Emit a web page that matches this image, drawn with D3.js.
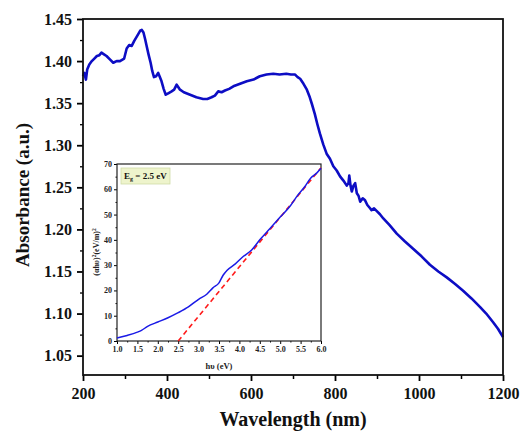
<!DOCTYPE html>
<html>
<head>
<meta charset="utf-8">
<script src="https://cdn.jsdelivr.net/npm/d3@7"></script>
<style>
  html, body { margin: 0; padding: 0; background: #fff; }
  svg { display: block; font-family: "Liberation Serif", "Times New Roman", serif; }
</style>
</head>
<body>
<div id="chart"></div>
<script>
// ---- data: main absorbance spectrum ----
const wavelength = [200, 203, 207, 210, 215, 221, 227, 233, 239, 244, 250, 256, 264, 272, 280, 288, 298, 304, 310, 316,
  322, 328, 336, 340, 344, 348, 351, 356, 361, 365, 369, 374, 379, 383, 387, 392, 397, 404, 411, 417,
  423, 427, 431, 440, 455, 470, 486, 496, 506, 514, 522, 530, 538, 548, 558, 574, 590, 606, 621, 637,
  653, 668, 684, 695, 705, 711, 717, 725, 733, 740, 745, 752, 758, 764, 772, 780, 788, 796, 804, 812,
  820, 828, 832, 834, 837, 840, 844, 848, 852, 856, 860, 866, 871, 877, 882, 887, 893, 899, 907, 915,
  930, 947, 966, 986, 1006, 1026, 1046, 1066, 1086, 1105, 1125, 1145, 1160, 1176, 1188, 1200];
const absorbance = [1.382, 1.386, 1.378, 1.390, 1.396, 1.400, 1.403, 1.406, 1.407, 1.410, 1.408, 1.406, 1.402, 1.398, 1.400, 1.400, 1.403, 1.415, 1.419, 1.418,
  1.424, 1.429, 1.436, 1.437, 1.434, 1.426, 1.419, 1.408, 1.398, 1.388, 1.381, 1.382, 1.386, 1.381, 1.376, 1.367, 1.360, 1.362, 1.364, 1.366,
  1.372, 1.369, 1.366, 1.363, 1.360, 1.357, 1.355, 1.355, 1.357, 1.359, 1.364, 1.363, 1.365, 1.367, 1.370, 1.373, 1.376, 1.378, 1.382, 1.384,
  1.385, 1.384, 1.385, 1.384, 1.384, 1.381, 1.379, 1.373, 1.366, 1.357, 1.349, 1.337, 1.325, 1.314, 1.301, 1.290, 1.284, 1.275, 1.270, 1.263,
  1.258, 1.252, 1.255, 1.264, 1.252, 1.245, 1.252, 1.255, 1.243, 1.240, 1.233, 1.237, 1.235, 1.229, 1.226, 1.223, 1.225, 1.222, 1.218, 1.213,
  1.205, 1.195, 1.186, 1.177, 1.168, 1.158, 1.150, 1.143, 1.135, 1.127, 1.118, 1.108, 1.100, 1.090, 1.082, 1.072];

const xTicks = [200, 400, 600, 800, 1000, 1200];
const yTicks = [1.05, 1.10, 1.15, 1.20, 1.25, 1.30, 1.35, 1.40, 1.45];

// ---- data: Tauc plot inset ----
const photonEnergy = [1.0, 1.25, 1.5, 1.6, 1.75, 2.0, 2.25, 2.5, 2.75, 3.0, 3.2, 3.35, 3.5, 3.6, 3.7, 3.9, 4.1, 4.3, 4.5, 4.75, 5.0, 5.25, 5.4, 5.6, 5.75, 5.9, 6.0];
const tauc = [1.2, 2.2, 3.5, 4.2, 5.8, 7.5, 9.2, 11.2, 13.5, 16.5, 18.5, 21, 23, 26, 28, 30.5, 33.5, 36, 40, 44.5, 49, 53.5, 57, 61, 64.5, 66.5, 68.3];
const fitEnergy = [2.5, 6.0];
const fitValue = [0, 68.5];
const insetXTicks = [1.0, 1.5, 2.0, 2.5, 3.0, 3.5, 4.0, 4.5, 5.0, 5.5, 6.0];
const insetYTicks = [0, 10, 20, 30, 40, 50, 60, 70];

const width = 524, height = 433;
const svg = d3.select("#chart").append("svg")
  .attr("width", width).attr("height", height);

// ---- main plot ----
const main = { left: 83, right: 503, top: 19, bottom: 375 };
const x = d3.scaleLinear().domain([200, 1200]).range([main.left, main.right]);
const y = d3.scaleLinear().domain([1.027, 1.45]).range([main.bottom, main.top]);

// minor ticks
const xMinor = d3.range(300, 1200, 200);
const yMinor = d3.range(1.075, 1.45, 0.05);

svg.append("g").attr("transform", `translate(0,${main.bottom})`)
  .call(d3.axisBottom(x).tickValues(xMinor).tickSize(4).tickFormat(""))
  .call(g => g.select(".domain").remove())
  .selectAll("line").attr("stroke-width", 1.5);
svg.append("g").attr("transform", `translate(${main.left},0)`)
  .call(d3.axisLeft(y).tickValues(yMinor).tickSize(3).tickFormat(""))
  .call(g => g.select(".domain").remove())
  .selectAll("line").attr("stroke-width", 1.3);

const xAxis = svg.append("g").attr("transform", `translate(0,${main.bottom})`)
  .call(d3.axisBottom(x).tickValues(xTicks).tickSize(6).tickPadding(7).tickFormat(d3.format("d")));
xAxis.select(".domain").remove();
xAxis.selectAll("line").attr("stroke-width", 1.8);
xAxis.selectAll("text").attr("font-size", 16).attr("font-weight", "bold")
  .attr("font-family", "Liberation Serif").attr("fill", "#111");

const yAxis = svg.append("g").attr("transform", `translate(${main.left},0)`)
  .call(d3.axisLeft(y).tickValues(yTicks).tickSize(6).tickPadding(5).tickFormat(d3.format(".2f")));
yAxis.select(".domain").remove();
yAxis.selectAll("line").attr("stroke-width", 1.8);
yAxis.selectAll("text").attr("font-size", 16).attr("font-weight", "bold")
  .attr("font-family", "Liberation Serif").attr("fill", "#111");

const spectrum = wavelength.map((w, i) => ({ x: w, y: absorbance[i] }));
svg.append("path")
  .datum(spectrum)
  .attr("fill", "none")
  .attr("stroke", "#0d0dc4")
  .attr("stroke-width", 2.6)
  .attr("stroke-linejoin", "round")
  .attr("d", d3.line().x(d => x(d.x)).y(d => y(d.y)));

// frame
svg.append("rect")
  .attr("x", main.left).attr("y", main.top)
  .attr("width", main.right - main.left).attr("height", main.bottom - main.top)
  .attr("fill", "none").attr("stroke", "#111").attr("stroke-width", 1.8);

svg.append("text")
  .attr("x", (main.left + main.right) / 2).attr("y", 426)
  .attr("text-anchor", "middle")
  .attr("font-size", 20).attr("font-weight", "bold").attr("fill", "#111")
  .text("Wavelength (nm)");

svg.append("text")
  .attr("transform", "translate(29,195) rotate(-90)")
  .attr("text-anchor", "middle")
  .attr("font-size", 19).attr("font-weight", "bold").attr("fill", "#111")
  .text("Absorbance (a.u.)");

// ---- inset ----
const inset = { left: 117, right: 321, top: 164, bottom: 341 };
const ix = d3.scaleLinear().domain([1, 6]).range([inset.left, inset.right]);
const iy = d3.scaleLinear().domain([0, 70]).range([inset.bottom, inset.top]);

svg.append("rect")
  .attr("x", inset.left).attr("y", inset.top)
  .attr("width", inset.right - inset.left).attr("height", inset.bottom - inset.top)
  .attr("fill", "#fff");

svg.append("g").attr("transform", `translate(0,${inset.bottom})`)
  .call(d3.axisBottom(ix).tickValues(d3.range(1.25, 6, 0.5)).tickSize(1.5).tickFormat(""))
  .call(g => g.select(".domain").remove());
svg.append("g").attr("transform", `translate(${inset.left},0)`)
  .call(d3.axisLeft(iy).tickValues(d3.range(5, 70, 10)).tickSize(1.5).tickFormat(""))
  .call(g => g.select(".domain").remove());

const ixAxis = svg.append("g").attr("transform", `translate(0,${inset.bottom})`)
  .call(d3.axisBottom(ix).tickValues(insetXTicks).tickSize(3).tickPadding(2).tickFormat(d3.format(".1f")));
ixAxis.select(".domain").remove();
ixAxis.selectAll("text").attr("font-size", 8).attr("font-weight", "bold")
  .attr("font-family", "Liberation Serif").attr("fill", "#222");

const iyAxis = svg.append("g").attr("transform", `translate(${inset.left},0)`)
  .call(d3.axisLeft(iy).tickValues(insetYTicks).tickSize(3).tickPadding(2).tickFormat(d3.format("d")));
iyAxis.select(".domain").remove();
iyAxis.selectAll("text").attr("font-size", 8).attr("font-weight", "bold")
  .attr("font-family", "Liberation Serif").attr("fill", "#222");

svg.append("rect")
  .attr("x", inset.left).attr("y", inset.top)
  .attr("width", inset.right - inset.left).attr("height", inset.bottom - inset.top)
  .attr("fill", "none").attr("stroke", "#222").attr("stroke-width", 1.2);

const fitLine = fitEnergy.map((e, i) => ({ x: e, y: fitValue[i] }));
svg.append("path")
  .datum(fitLine)
  .attr("fill", "none")
  .attr("stroke", "#ff1a1a")
  .attr("stroke-width", 1.6)
  .attr("stroke-dasharray", "5,3.5")
  .attr("d", d3.line().x(d => ix(d.x)).y(d => iy(d.y)));

const taucData = photonEnergy.map((e, i) => ({ x: e, y: tauc[i] }));
svg.append("path")
  .datum(taucData)
  .attr("fill", "none")
  .attr("stroke", "#1a1ae6")
  .attr("stroke-width", 1.5)
  .attr("d", d3.line().curve(d3.curveMonotoneX).x(d => ix(d.x)).y(d => iy(d.y)));

// band gap label
svg.append("rect")
  .attr("x", 121).attr("y", 168).attr("width", 49).attr("height", 16)
  .attr("fill", "#eef4cc").attr("stroke", "#cfdca8").attr("stroke-width", 0.8);
const eg = svg.append("text")
  .attr("x", 124).attr("y", 179)
  .attr("font-size", 9).attr("font-weight", "bold").attr("fill", "#111");
eg.append("tspan").text("E");
eg.append("tspan").attr("font-size", 6).attr("dy", 2).text("g");
eg.append("tspan").attr("dy", -2).text(" = 2.5 eV");

svg.append("text")
  .attr("x", (inset.left + inset.right) / 2).attr("y", 369)
  .attr("text-anchor", "middle")
  .attr("font-size", 8.5).attr("font-weight", "bold").attr("fill", "#222")
  .text("hυ (eV)");

const iyl = svg.append("text")
  .attr("transform", "translate(99,252) rotate(-90)")
  .attr("text-anchor", "middle")
  .attr("font-size", 8).attr("font-weight", "bold").attr("fill", "#222");
iyl.append("tspan").text("(αhυ)");
iyl.append("tspan").attr("font-size", 5.5).attr("dy", -3).text("2");
iyl.append("tspan").attr("dy", 3).text("(eV/m)");
iyl.append("tspan").attr("font-size", 5.5).attr("dy", -3).text("2");
</script>
</body>
</html>
